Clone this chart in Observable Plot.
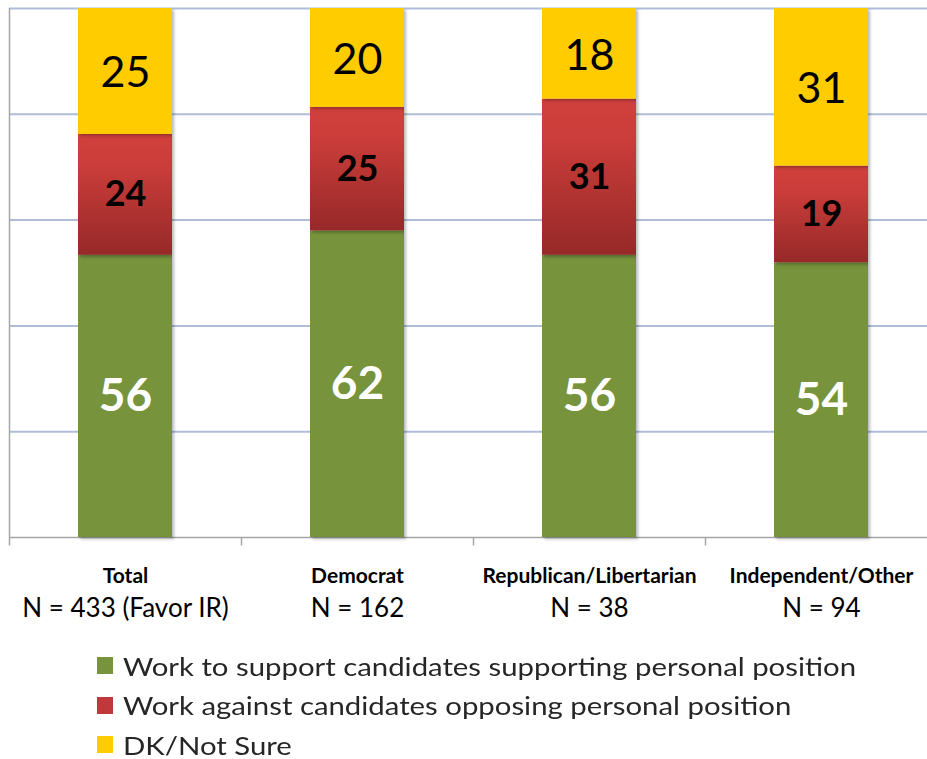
<!DOCTYPE html>
<html>
<head>
<meta charset="utf-8">
<script src="https://cdn.jsdelivr.net/npm/d3@7"></script>
<script src="https://cdn.jsdelivr.net/npm/@observablehq/plot@0.6"></script>
<style>
  html, body { margin: 0; padding: 0; background: #fff; overflow: hidden; width: 927px; height: 759px; }
  #chart svg { display: block; max-width: none !important; }
  #chart g[aria-label="bar"] rect { filter: drop-shadow(2px 2px 1.5px rgba(0,0,0,0.28)); }
  #legend { margin-top: 11px; margin-left: 97px; font-family: Lato, "Noto Sans", sans-serif; font-size: 25.5px; color: #262626; }
  .row { display: flex; align-items: center; height: 39.5px; white-space: nowrap; }
  .sw { width: 16px; height: 17px; margin-right: 10px; flex: none; }
  .row span { display: inline-block; transform: scaleX(1.15); transform-origin: left center; }
</style>
</head>
<body>
<div id="chart"></div>
<div id="legend"></div>
<script>
const categories = ["Total", "Democrat", "Republican/Libertarian", "Independent/Other"];
const sampleSizes = ["N = 433 (Favor IR)", "N = 162", "N = 38", "N = 94"];
const series = [
  "Work to support candidates supporting personal position",
  "Work against candidates opposing personal position",
  "DK/Not Sure"
];
const supportValues = [56, 62, 56, 54];
const againstValues = [24, 25, 31, 19];
const dkValues = [25, 20, 18, 31];
const gridTicks = [0.2, 0.4, 0.6, 0.8, 1];
const colors = ["#77933c", "url(#redgrad)", "#ffcc00"];
const swatchColors = ["#77933c", "#c0393a", "#ffcc00"];

const seriesValues = [supportValues, againstValues, dkValues];
const data = [];
categories.forEach((c, i) => {
  series.forEach((s, j) => data.push({category: c, series: s, value: seriesValues[j][i]}));
});

const W = 937, left = 9;
const step = (W - left) / categories.length;

const stackOpts = {x: "category", y: "value", z: "series", order: series, offset: "normalize"};
const labelMark = (s, opts) => Plot.text(data, Plot.stackY({
  ...stackOpts,
  text: d => d.series === s ? String(d.value) : null,
  ...opts
}));

const chart = Plot.plot({
  width: W,
  height: 635,
  marginLeft: left,
  marginRight: 0,
  marginTop: 8,
  marginBottom: 98,
  style: {fontFamily: "Lato, 'Noto Sans', sans-serif", background: "transparent", overflow: "visible"},
  x: {domain: categories, paddingInner: 0.595, paddingOuter: 0.2975, axis: null},
  y: {domain: [0, 1], axis: null},
  color: {domain: series, range: colors},
  marks: [
    Plot.ruleY(gridTicks, {stroke: "#b0bdd9", strokeWidth: 2}),
    Plot.ruleY([0], {stroke: "#a6a6a6", strokeWidth: 1.5}),
    Plot.ruleX(categories.slice(0, 1), {x: d => d, dx: -step / 2, y1: 0, y2: 1, stroke: "#a6a6a6", strokeWidth: 1.5}),
    Plot.ruleX(categories, {x: d => d, dx: -step / 2, y1: -0.016, y2: 0, stroke: "#a6a6a6", strokeWidth: 1.5}),
    Plot.barY(data, {...stackOpts, fill: "series"}),
    labelMark(series[0], {fill: "#ffffff", fontWeight: "bold", fontSize: 46}),
    labelMark(series[1], {fill: "#000000", fontWeight: "bold", fontSize: 36}),
    labelMark(series[2], {fill: "#000000", fontWeight: "normal", fontSize: 43, dy: 2}),
    Plot.text(categories, {x: d => d, y: 0, dy: 39, text: d => d, fontWeight: "bold", fontSize: 21, fill: "#000"}),
    Plot.text(categories, {x: d => d, y: 0, dy: 71, text: (d, i) => sampleSizes[i], fontSize: 26, fill: "#000"})
  ]
});

const defs = d3.select(chart).insert("defs", ":first-child");
const grad = defs.append("linearGradient").attr("id", "redgrad").attr("x1", 0).attr("y1", 0).attr("x2", 0).attr("y2", 1);
grad.append("stop").attr("offset", "0").attr("stop-color", "#d1403d");
grad.append("stop").attr("offset", "0.25").attr("stop-color", "#cb3d3a");
grad.append("stop").attr("offset", "1").attr("stop-color", "#962928");

document.getElementById("chart").appendChild(chart);

const legend = d3.select("#legend");
series.forEach((s, i) => {
  const row = legend.append("div").attr("class", "row");
  row.append("div").attr("class", "sw").style("background", swatchColors[i]);
  row.append("span").text(s);
});
</script>
</body>
</html>
